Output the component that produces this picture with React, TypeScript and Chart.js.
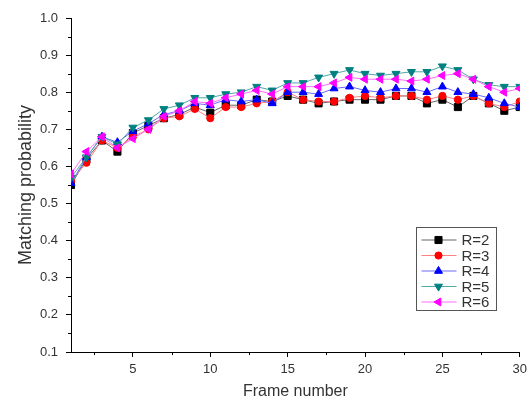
import React, { useEffect, useRef } from 'react';
import { Chart, registerables } from 'chart.js';
import { drawPoint } from 'chart.js/helpers';

Chart.register(...registerables);

const FRAMES = [1, 2, 3, 4, 5, 6, 7, 8, 9, 10, 11, 12, 13, 14, 15, 16, 17, 18, 19, 20, 21, 22, 23, 24, 25, 26, 27, 28, 29, 30];
const R2 = [0.55, 0.62, 0.67, 0.64, 0.69, 0.71, 0.73, 0.74, 0.76, 0.745, 0.765, 0.765, 0.78, 0.775, 0.79, 0.78, 0.77, 0.775, 0.78, 0.78, 0.78, 0.79, 0.79, 0.77, 0.78, 0.76, 0.79, 0.77, 0.75, 0.76];
const R3 = [0.56, 0.61, 0.67, 0.65, 0.68, 0.70, 0.73, 0.735, 0.755, 0.73, 0.76, 0.76, 0.77, 0.775, 0.80, 0.78, 0.775, 0.775, 0.785, 0.79, 0.785, 0.79, 0.79, 0.78, 0.79, 0.78, 0.79, 0.77, 0.76, 0.775];
const R4 = [0.555, 0.625, 0.68, 0.665, 0.695, 0.715, 0.74, 0.75, 0.77, 0.765, 0.78, 0.775, 0.78, 0.77, 0.80, 0.80, 0.795, 0.81, 0.815, 0.805, 0.80, 0.81, 0.81, 0.80, 0.815, 0.80, 0.795, 0.785, 0.77, 0.76];
const R5 = [0.57, 0.625, 0.68, 0.66, 0.705, 0.725, 0.755, 0.765, 0.785, 0.785, 0.795, 0.80, 0.815, 0.805, 0.825, 0.825, 0.84, 0.85, 0.86, 0.85, 0.845, 0.85, 0.855, 0.855, 0.87, 0.86, 0.835, 0.82, 0.815, 0.815];
const R6 = [0.58, 0.64, 0.68, 0.65, 0.675, 0.70, 0.735, 0.75, 0.775, 0.77, 0.785, 0.795, 0.805, 0.795, 0.815, 0.815, 0.815, 0.825, 0.84, 0.835, 0.835, 0.835, 0.83, 0.835, 0.845, 0.85, 0.835, 0.815, 0.80, 0.81];
const SERIES = [R2, R3, R4, R5, R6];
const SERIES_LABELS = ['R=2', 'R=3', 'R=4', 'R=5', 'R=6'];
const Y_TICKS = [0.1, 0.2, 0.3, 0.4, 0.5, 0.6, 0.7, 0.8, 0.9, 1.0];
const Y_MINOR = [0.15, 0.25, 0.35, 0.45, 0.55, 0.65, 0.75, 0.85, 0.95];
const X_TICKS = [5, 10, 15, 20, 25, 30];
const X_MINOR = [2.5, 7.5, 12.5, 17.5, 22.5, 27.5];

const STYLES = [
  { line: '#666666', fill: '#000000', point: 'rect', rot: 0, r: 5 },
  { line: '#ff8080', fill: '#ff0000', point: 'circle', rot: 0, r: 3.6 },
  { line: '#6a6aff', fill: '#0000ff', point: 'triangle', rot: 0, r: 4.6 },
  { line: '#50a8a8', fill: '#008080', point: 'triangle', rot: 180, r: 4.6 },
  { line: '#ff6aff', fill: '#ff00ff', point: 'triangle', rot: -90, r: 4.6 },
];

const FONT = '"Liberation Sans", Arial, sans-serif';
const TEXT = '#333333';

const extrasPlugin = {
  id: 'extras',
  afterDraw(chart: any) {
    const ctx = chart.ctx;
    const xs = chart.scales.x;
    const ys = chart.scales.y;
    const area = chart.chartArea;
    ctx.save();
    ctx.strokeStyle = '#000';
    ctx.lineWidth = 1;
    ctx.beginPath();
    X_MINOR.forEach((v) => {
      const px = Math.round(xs.getPixelForValue(v)) + 0.5;
      ctx.moveTo(px, area.bottom);
      ctx.lineTo(px, area.bottom + 3);
    });
    Y_MINOR.forEach((v) => {
      const py = Math.round(ys.getPixelForValue(v)) + 0.5;
      ctx.moveTo(area.left, py);
      ctx.lineTo(area.left - 3, py);
    });
    ctx.stroke();

    // legend box
    const bx = 416.5, by = 227.5, bw = 80, bh = 83;
    ctx.fillStyle = '#fff';
    ctx.fillRect(bx, by, bw, bh);
    ctx.strokeStyle = '#555';
    ctx.strokeRect(bx, by, bw, bh);
    ctx.font = '15px ' + FONT;
    ctx.textBaseline = 'middle';
    ctx.textAlign = 'left';
    SERIES_LABELS.forEach((lab, i) => {
      const st = STYLES[i];
      const y = by + 12.5 + i * 15.5;
      ctx.strokeStyle = st.line;
      ctx.beginPath();
      ctx.moveTo(bx + 5, y);
      ctx.lineTo(bx + 40, y);
      ctx.stroke();
      ctx.fillStyle = st.fill;
      ctx.strokeStyle = st.fill;
      drawPoint(ctx, { pointStyle: st.point, radius: st.r, rotation: st.rot, borderWidth: 1 }, bx + 22, y);
      ctx.fillStyle = TEXT;
      ctx.fillText(lab, bx + 45, y + 1);
    });
    ctx.restore();
  },
};

export default function App() {
  const ref = useRef<HTMLCanvasElement>(null);
  useEffect(() => {
    document.body.style.margin = '0';
    const chart = new Chart(ref.current as HTMLCanvasElement, {
      type: 'line',
      data: {
        datasets: SERIES.map((vals, i) => ({
          label: SERIES_LABELS[i],
          data: FRAMES.map((f, j) => ({ x: f, y: vals[j] })),
          borderColor: STYLES[i].line,
          borderWidth: 1,
          backgroundColor: STYLES[i].fill,
          pointBackgroundColor: STYLES[i].fill,
          pointBorderColor: STYLES[i].fill,
          pointBorderWidth: 1,
          pointStyle: STYLES[i].point as any,
          pointRotation: STYLES[i].rot,
          pointRadius: STYLES[i].r,
          tension: 0,
          order: 4 - i,
        })),
      },
      options: {
        animation: false,
        responsive: false,
        maintainAspectRatio: false,
        layout: { padding: { top: 18, right: 10, left: 0, bottom: 0 } },
        plugins: { legend: { display: false }, tooltip: { enabled: false } },
        scales: {
          x: {
            type: 'linear',
            min: 1,
            max: 30,
            afterFit: (s: any) => { s.height = 52; },
            afterBuildTicks: (s: any) => { s.ticks = X_TICKS.map((v) => ({ value: v })); },
            grid: { drawOnChartArea: false, drawTicks: true, tickLength: 5, color: '#000' },
            border: { display: true, color: '#000', width: 1 },
            ticks: { font: { family: FONT, size: 13 }, color: TEXT, padding: 5, maxRotation: 0, callback: (v: any) => String(v) },
            title: { display: true, text: 'Frame number', font: { family: FONT, size: 16 }, color: TEXT, padding: { top: 0, bottom: 3 } },
          },
          y: {
            type: 'linear',
            min: 0.1,
            max: 1.0,
            afterFit: (s: any) => { s.width = 71; },
            afterBuildTicks: (s: any) => { s.ticks = Y_TICKS.map((v) => ({ value: v })); },
            grid: { drawOnChartArea: false, drawTicks: true, tickLength: 5, color: '#000' },
            border: { display: true, color: '#000', width: 1 },
            ticks: { font: { family: FONT, size: 13 }, color: TEXT, padding: 8, callback: (v: any) => Number(v).toFixed(1) },
            title: { display: true, text: 'Matching probability', font: { family: FONT, size: 18 }, color: TEXT, padding: { top: 15, bottom: 0 } },
          },
        },
      },
      plugins: [extrasPlugin],
    });
    return () => chart.destroy();
  }, []);
  return (
    <div style={{ width: 532, height: 404 }}>
      <canvas ref={ref} width={532} height={404} style={{ display: 'block' }} />
    </div>
  );
}
